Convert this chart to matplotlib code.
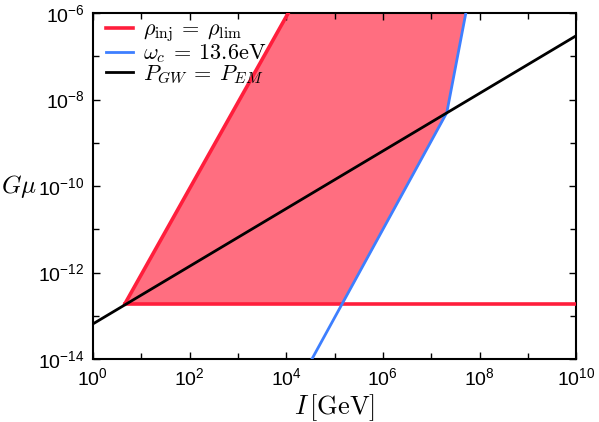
import numpy as np
import matplotlib
matplotlib.use('Agg')
import matplotlib.pyplot as plt
import matplotlib.ticker as mticker
from matplotlib.font_manager import FontProperties

plt.rcParams['mathtext.fontset'] = 'custom'
plt.rcParams['mathtext.rm'] = 'Liberation Sans'
plt.rcParams['mathtext.it'] = 'Liberation Sans:italic'
plt.rcParams['font.family'] = 'Liberation Sans'

# lines (I in GeV, G mu)
red_diag_x = [4.6, 1.1e4]
red_diag_y = [1.9e-13, 1e-6]
red_flat_x = [4.6, 1e10]
red_flat_y = [1.9e-13, 1.9e-13]
blue_x = [3.4e4, 2.1e7, 5.2e7]
blue_y = [1e-14, 5.0e-9, 1e-6]
black_x = [1.0, 1e10]
black_y = [6.5e-14, 3.0e-7]

fig = plt.figure(figsize=(5.99, 4.22), dpi=100)
ax = fig.add_axes([0.155, 0.149, 0.807, 0.82])

# shaded band between the red diagonal and the blue line, above the red floor
yy = np.logspace(np.log10(red_flat_y[0]), -6, 200)
xl = 10 ** np.interp(np.log10(yy), np.log10(red_diag_y), np.log10(red_diag_x))
xr = 10 ** np.interp(np.log10(yy), np.log10(blue_y), np.log10(blue_x))
ax.fill_betweenx(yy, xl, xr, color='#ff6e80', lw=0, zorder=1)

cm = FontProperties(size=16, math_fontfamily='cm')
ax.plot(red_diag_x, red_diag_y, color='#ff1e3c', lw=2.6, zorder=3,
        label=r'$\rho_{\rm inj} \:=\: \rho_{\rm lim}$')
ax.plot(red_flat_x, red_flat_y, color='#ff1e3c', lw=2.6, zorder=3)
ax.plot(blue_x, blue_y, color='#3d7fff', lw=2.0, zorder=3,
        label=r'$\omega_c \:=\: 13.6{\rm eV}$')
ax.plot(black_x, black_y, color='black', lw=2.0, zorder=4,
        label=r'$P_{GW} \:=\: P_{EM}$')

ax.set_xscale('log')
ax.set_yscale('log')
ax.set_xlim(1, 1e10)
ax.set_ylim(1e-14, 1e-6)

ax.set_xticks([10.0 ** k for k in range(0, 11, 2)])
ax.set_xticks([10.0 ** k for k in range(1, 10, 2)], minor=True)
ax.set_yticks([10.0 ** k for k in range(-14, -5, 2)])
ax.set_yticks([10.0 ** k for k in range(-13, -6, 2)], minor=True)
fmt = mticker.FuncFormatter(lambda v, p: r'$10^{%d}$' % round(np.log10(v)))
ax.xaxis.set_major_formatter(fmt)
ax.yaxis.set_major_formatter(fmt)
ax.xaxis.set_minor_formatter(mticker.NullFormatter())
ax.yaxis.set_minor_formatter(mticker.NullFormatter())
ax.tick_params(which='both', direction='in', top=True, right=True,
               labelsize=14, width=1.0, pad=6)
ax.tick_params(which='major', length=5)
ax.tick_params(which='minor', length=4)
for s in ax.spines.values():
    s.set_linewidth(1.5)

ax.set_xlabel(r'$I\,[{\rm GeV}]$', fontsize=19, math_fontfamily='cm', labelpad=2)
ax.set_ylabel(r'$G\mu$', fontsize=18, math_fontfamily='cm', rotation=0,
              ha='center', va='center')
ax.yaxis.set_label_coords(-0.152, 0.5)

ax.legend(loc='upper left', bbox_to_anchor=(0.0, 1.02), frameon=False, prop=cm,
          handlelength=1.2, borderaxespad=0.2, labelspacing=-0.08,
          handletextpad=0.45)

fig.savefig('out.png', dpi=100)
